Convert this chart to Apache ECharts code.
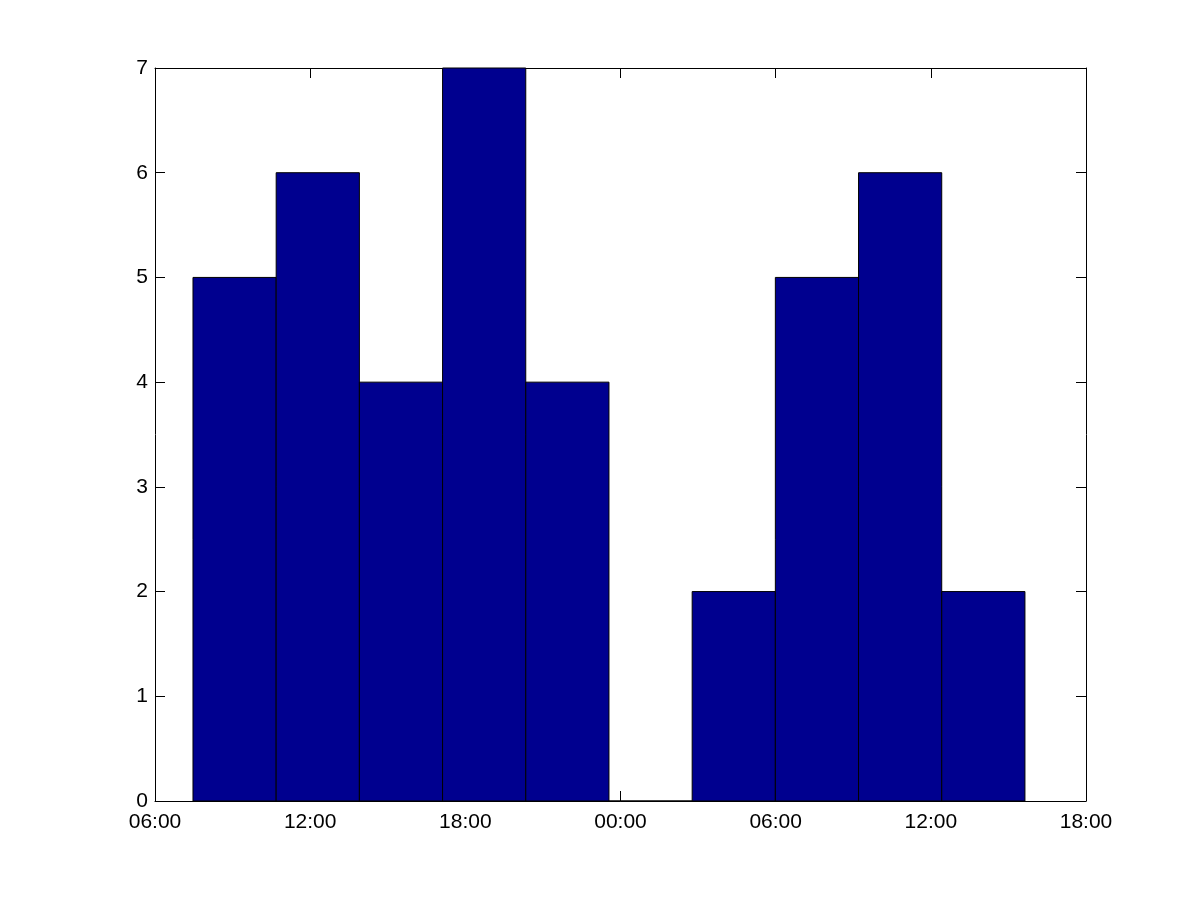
<!DOCTYPE html>
<html>
<head>
<meta charset="utf-8">
<script src="https://cdn.jsdelivr.net/npm/echarts@6/dist/echarts.min.js"></script>
<style>html,body{margin:0;padding:0;background:#fff}#c{width:1200px;height:900px}</style>
</head>
<body>
<div id="c"></div>
<script>
// Bin edges in hours after 06:00 of day 1
const binEdges = [1.469, 4.686, 7.903, 11.12, 14.337, 17.554, 20.771, 23.988, 27.205, 30.422, 33.639];
const counts = [5, 6, 4, 7, 4, 0, 2, 5, 6, 2];
const xTickLabels = ['06:00', '12:00', '18:00', '00:00', '06:00', '12:00', '18:00'];
const yMax = 7;

const barData = counts.map((c, i) => [binEdges[i], binEdges[i + 1], c]);

const chart = echarts.init(document.getElementById('c'), null, {renderer: 'canvas'});
const fontFamily = 'Liberation Sans, Arial, sans-serif';
const axisLine = {show: true, onZero: false, lineStyle: {color: '#000', width: 1}};
const axisTick = {show: true, inside: true, length: 10, lineStyle: {color: '#000', width: 1}};

chart.setOption({
  animation: false,
  backgroundColor: '#fff',
  grid: {left: 155, right: 114, top: 68, bottom: 99, containLabel: false},
  xAxis: [
    {
      type: 'value', min: 0, max: 36, interval: 6,
      position: 'bottom',
      axisLine, axisTick, splitLine: {show: false},
      axisLabel: {
        color: '#000', fontFamily, fontSize: 21, margin: 11,
        formatter: v => xTickLabels[Math.round(v / 6)]
      }
    },
    {
      type: 'value', min: 0, max: 36, interval: 6,
      position: 'top',
      axisLine, axisTick, splitLine: {show: false},
      axisLabel: {show: false}
    }
  ],
  yAxis: [
    {
      type: 'value', min: 0, max: yMax, interval: 1,
      position: 'left',
      axisLine, axisTick, splitLine: {show: false},
      axisLabel: {color: '#000', fontFamily, fontSize: 21, margin: 7}
    },
    {
      type: 'value', min: 0, max: yMax, interval: 1,
      position: 'right',
      axisLine, axisTick, splitLine: {show: false},
      axisLabel: {show: false}
    }
  ],
  series: [{
    type: 'custom',
    xAxisIndex: 0, yAxisIndex: 0,
    data: barData,
    encode: {x: [0, 1], y: 2},
    renderItem: function (params, api) {
      const p0 = api.coord([api.value(0), api.value(2)]);
      const p1 = api.coord([api.value(1), 0]);
      return {
        type: 'rect',
        shape: {x: p0[0], y: p0[1], width: p1[0] - p0[0], height: p1[1] - p0[1]},
        style: {fill: '#00008F', stroke: '#000', lineWidth: 1}
      };
    }
  }]
});
</script>
</body>
</html>
